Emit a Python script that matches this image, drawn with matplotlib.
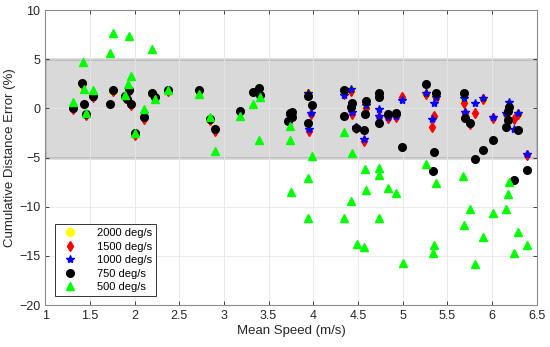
import matplotlib
matplotlib.use("Agg")
import matplotlib.pyplot as plt
from matplotlib.patches import Rectangle

plt.rcParams['font.family'] = ['Liberation Sans', 'DejaVu Sans']

# 500 deg/s
x500 = [1.31, 1.42, 1.44, 1.46, 1.54, 1.73, 1.76, 1.89, 1.93, 1.94, 1.96, 2.01, 2.11, 2.20,
        2.23, 2.37, 2.72, 2.85, 2.90, 3.18, 3.33, 3.40, 3.39, 3.74, 3.74, 3.75, 3.94, 3.94,
        3.98, 4.34, 4.43, 4.34, 4.42, 4.49, 4.57, 4.58, 4.59, 4.73, 4.74, 4.73, 4.83, 4.93,
        5.00, 5.26, 5.37, 5.34, 5.35, 5.68, 5.69, 5.75, 5.81, 5.90, 6.01, 6.15, 6.18, 6.19,
        6.24, 6.29, 6.39]
y500 = [0.67, 4.7, 2.0, -0.5, 1.87, 5.6, 7.7, 1.36, 2.5, 7.4, 3.3, -2.5, -0.04, 6.05,
        1.0, 1.87, 1.46, -0.86, -4.33, -0.79, 0.44, 1.12, -3.23, -1.8, -3.24, -8.5, -7.08, -11.2,
        -4.87, -2.45, -4.5, -11.16, -9.39, -13.78, -14.15, -6.12, -8.34, -6.02, -6.73, -11.16, -8.1, -8.57,
        -15.7, -5.7, -7.55, -14.7, -13.88, -6.88, -11.9, -10.28, -15.8, -13.1, -10.6, -10.2, -8.67, -7.49,
        -14.7, -12.6, -13.9]

# 750 deg/s
x750 = [1.31, 1.41, 1.44, 1.46, 1.54, 1.73, 1.76, 1.89, 1.92, 1.94, 1.96, 2.01, 2.11, 2.20,
        2.23, 2.37, 2.72, 2.85, 2.90, 3.18, 3.33, 3.39, 3.40, 3.74, 3.72, 3.76, 3.76, 3.94,
        3.98, 3.94, 4.34, 4.34, 4.43, 4.42, 4.48, 4.57, 4.59, 4.58, 4.74, 4.73, 4.73, 4.83,
        4.93, 4.99, 5.26, 5.37, 5.35, 5.34, 5.69, 5.70, 5.75, 5.81, 5.90, 6.01, 6.18, 6.19,
        6.18, 6.15, 6.29, 6.24, 6.39]
y750 = [0.0, 2.55, 0.47, -0.58, 1.26, 0.41, 1.87, 1.26, 0.92, 1.87, 0.41, -2.55, -0.92, 1.6,
        1.12, 1.87, 1.87, -1.06, -2.14, -0.28, 1.7, 2.04, 1.36, -0.5, -1.26, -0.86, -0.34, 1.26,
        0.34, -1.53, 1.87, -0.79, 0.51, 0.1, -2.0, -2.2, 0.78, -0.58, 1.53, 1.12, -1.47, -0.61,
        -0.51, -3.92, 2.48, 1.6, -4.43, -6.4, 1.6, -1.02, -1.53, -5.1, -4.26, -3.23, -0.24, 0.1,
        -1.19, -1.94, -2.21, -7.3, -6.3]

# 1000 deg/s
x1000 = [1.41, 1.54, 1.94, 2.20, 2.72, 3.39, 3.74, 3.94, 3.97, 3.95, 4.34, 4.42, 4.43, 4.48,
         4.57, 4.59, 4.73, 4.73, 4.83, 4.93, 4.99, 5.26, 5.37, 5.35, 5.33, 5.69, 5.70, 5.81,
         5.90, 6.01, 6.19, 6.15, 6.24, 6.29, 6.39]
y1000 = [2.5, 1.2, 1.8, 1.55, 1.8, 2.0, -0.8, 1.6, -0.51, -2.14, 1.36, 1.94, -0.34, -1.9,
         -3.16, 0.34, -0.1, -0.75, -0.86, -0.79, 0.9, 1.53, 1.19, 0.58, -1.12, 1.02, -0.34, 0.58,
         1.02, -0.86, 0.68, -0.5, -2.14, -0.51, -4.6]

# 1500 deg/s
x1500 = [1.31, 1.41, 1.46, 1.54, 1.76, 1.94, 1.96, 2.01, 2.11, 2.20, 2.37, 2.72, 2.85, 2.90,
         3.18, 3.39, 3.74, 3.94, 3.97, 3.95, 4.34, 4.42, 4.43, 4.48, 4.57, 4.59, 4.73, 4.83,
         4.93, 4.99, 5.26, 5.37, 5.35, 5.33, 5.69, 5.70, 5.75, 5.81, 5.90, 6.01, 6.15, 6.24,
         6.29, 6.39]
y1500 = [-0.1, 2.45, -0.7, 1.15, 1.75, 1.75, 0.3, -2.7, -1.05, 1.5, 1.75, 1.75, -1.2, -2.3,
         -0.4, 1.9, -0.65, 1.5, -0.6, -2.25, 1.5, 1.8, -0.6, -2.0, -3.3, 0.0, -0.85, -0.95,
         -0.9, 1.19, 1.45, 1.1, -0.79, -1.94, 0.58, -0.45, -1.6, -0.45, 0.95, -0.95, -0.6, -1.1,
         -0.6, -4.7]

# 2000 deg/s (hidden beneath the other series)
x2000 = [1.41, 1.76, 2.20, 2.72, 3.39, 3.94, 4.42, 4.59, 5.26, 5.37, 5.69, 5.90, 6.29]
y2000 = [2.5, 1.8, 1.55, 1.8, 2.0, 1.55, 1.85, 0.1, 1.5, 1.15, 0.8, 1.0, -0.55]

fig = plt.figure(figsize=(5.5, 3.47), dpi=100)
ax = fig.add_axes([0.082, 0.121, 0.894, 0.850])

ax.add_patch(Rectangle((1, -5), 5.5, 10, facecolor='#d9d9d9', edgecolor='#555555',
                       linewidth=1.0, zorder=1))

ms = 5.5
ax.plot(x2000, y2000, 'o', color='#ffff00', markersize=ms, label='2000 deg/s', zorder=2)
ax.plot(x1500, y1500, 'd', color='#ff0000', markersize=ms, label='1500 deg/s', zorder=3)
ax.plot(x1000, y1000, '*', color='#0000ff', markersize=ms + 0.5, label='1000 deg/s', zorder=4)
ax.plot(x750, y750, 'o', color='black', markersize=ms, label='750 deg/s', zorder=5)
ax.plot(x500, y500, '^', color='#00ff00', markersize=ms, label='500 deg/s', zorder=6)

ax.set_xlim(1, 6.5)
ax.set_ylim(-20, 10)
ax.set_xticks([1, 1.5, 2, 2.5, 3, 3.5, 4, 4.5, 5, 5.5, 6, 6.5])
ax.set_xticklabels(['1', '1.5', '2', '2.5', '3', '3.5', '4', '4.5', '5', '5.5', '6', '6.5'])
ax.set_yticks([-20, -15, -10, -5, 0, 5, 10])
ax.set_axisbelow('line')
ax.grid(True, color='#e6e6e6', linewidth=0.6)
ax.tick_params(direction='in', top=True, right=True, labelsize=9, colors='#262626',
               length=3, width=0.6)
for s in ax.spines.values():
    s.set_color('#8c8c8c')
    s.set_linewidth(0.8)

ax.set_xlabel('Mean Speed (m/s)', fontsize=9.5, color='#262626', labelpad=2)
ax.set_ylabel('Cumulative Distance Error (%)', fontsize=9.5, color='#262626', labelpad=2)

leg = ax.legend(loc='lower left', bbox_to_anchor=(0.02, 0.03), borderaxespad=0, fontsize=8,
                frameon=True, fancybox=False, edgecolor='#333333', framealpha=1,
                handletextpad=1.4, borderpad=0.35, labelspacing=0.32, handlelength=2.0)
leg.get_frame().set_linewidth(0.7)

plt.savefig('out.png', dpi=100)
